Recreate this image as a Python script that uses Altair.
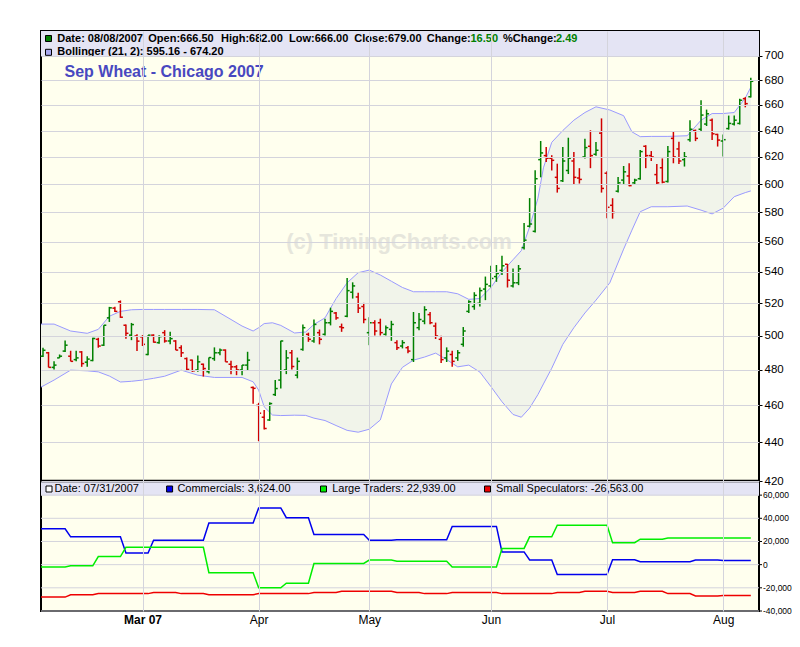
import altair as alt
import pandas as pd

# ---------------- data ----------------
opens = [488, 490, 481.5, 487, 491, 488, 486, 490.5, 484.5, 485.5,
         498, 494.5, 511, 517, 521, 506.5, 500.5, 500, 499.5, 489,
         500.5, 496, 502, 497, 497, 493, 486.6, 485.7, 480, 483.3,
         479, 486.6, 490, 491.6, 483.3, 481.8, 480, 482.8, 470, 460,
         453.5, 452, 466, 474.2, 480, 490, 477, 492, 501, 497,
         502, 501, 508, 514, 505.5, 512, 527, 524, 518, 502,
         508, 508, 501, 504, 496, 494, 493, 486, 505, 509,
         513, 506, 498, 487, 489, 487, 495, 515, 518, 520,
         529, 531, 537, 541, 545, 531, 533, 556, 570.5, 567,
         618, 621, 619, 605, 602.5, 610, 617, 604.5, 620, 628,
         622, 638, 608, 585, 595, 603, 606, 601, 604, 628,
         621, 607, 612, 602, 634, 626, 618, 633, 640, 641,
         645, 648, 637, 632, 641.5, 645, 645.5, 665, 666.5]
highs = [493, 490.5, 485, 489, 497.3, 491.2, 491.2, 491, 488, 498.9,
         498.9, 506.5, 517.8, 517.8, 521.8, 506.9, 507.9, 501, 500.5, 500.5,
         501, 500.5, 503.5, 502.6, 497.5, 494.5, 487.2, 486, 488.4, 483.7,
         487.2, 493.2, 492.6, 492, 485.3, 482.8, 482.8, 490.6, 470.5, 461.4,
         457.4, 461.7, 474.2, 497.1, 491.6, 491.6, 487.2, 507, 502, 510,
         503.9, 510.4, 517.3, 514.6, 507.5, 536.1, 533.3, 526.6, 520.3, 511.4,
         509.6, 510.5, 506.4, 509.2, 497.5, 497.5, 494, 514.6, 514, 518.2,
         514.6, 508.1, 500.1, 493.2, 491.2, 491.6, 505.4, 522, 527, 530,
         537, 544, 544.5, 550.6, 545.2, 542.3, 544.5, 572.7, 590.1, 610.2,
         632, 627.5, 621.3, 615, 627.5, 634.5, 623.7, 611.7, 633.7, 640.2,
         631.3, 649.4, 609.5, 590, 605.3, 613.3, 615.3, 604, 625.2, 628.8,
         624.4, 614.8, 618.9, 628.3, 639, 631.4, 623.7, 648, 640.7, 663.7,
         656.3, 649.4, 637.5, 637, 651.6, 651.6, 664.9, 666.2, 682]
lows = [487.5, 481.5, 480.3, 487, 490.5, 485, 485, 481.8, 481.8, 485,
        493, 494, 508.5, 514.6, 511, 498.4, 497.5, 491, 494, 488.5,
        496, 495.4, 496, 495, 491.6, 487.6, 479.5, 478.9, 478.9, 476.2,
        478, 485.3, 488.6, 484.7, 477.6, 477, 477, 479.9, 460.9, 440.6,
        446.9, 451.5, 465.2, 469.4, 477.6, 480.3, 475.2, 491.2, 496.5, 495.9,
        495, 500.3, 506.4, 509.8, 502.5, 511.4, 523, 514, 507.7, 494.5,
        500.3, 500.3, 500.3, 497.1, 491.6, 492.6, 489.8, 484.6, 503.5, 507.1,
        507.1, 498.2, 484, 484.6, 481.8, 485.3, 493.6, 514, 516, 518,
        522, 530, 533.6, 538, 530, 530, 531.5, 554.7, 569.7, 566.2,
        605, 616.3, 610, 594, 601.7, 607.4, 599.8, 600.5, 618.8, 611.7,
        620.9, 594, 576, 575.7, 594, 600.2, 598.5, 600.2, 603.2, 611.7,
        617, 600.2, 600.7, 601.2, 615.3, 614.8, 612.9, 631.4, 631.9, 639.7,
        643.5, 632.7, 627.8, 620.3, 640.7, 643.9, 644.7, 658.1, 666]
closes = [491.5, 481.5, 482.8, 488, 494.5, 485, 487, 483.7, 486.3, 498.5,
          494, 506.5, 517.2, 515, 511.4, 501.6, 506.9, 496.9, 495, 500.5,
          496.3, 499.6, 497, 498.4, 491.6, 490, 480.3, 479.5, 484.7, 480.8,
          487.2, 490, 491.6, 484.7, 481.8, 480, 482.8, 485.7, 469.5, 455.7,
          447.4, 461, 469.4, 497, 487, 482, 485, 505, 498, 507,
          498, 508, 515, 511, 505, 528, 531, 517, 510, 508,
          503, 502, 505, 507, 493, 496, 491, 508, 510, 516,
          508, 500, 486, 491, 485, 490, 503, 521, 525, 528,
          532, 535.8, 539, 544, 534.7, 533, 542, 561, 572, 604,
          623, 619, 617.5, 597, 617, 619, 605, 603.5, 627, 621,
          625, 597, 583.6, 580, 601, 609, 599, 603, 624, 621,
          620, 601, 601.5, 624, 620, 617, 620, 641, 634, 652,
          653, 637.5, 632.7, 633, 645.5, 648, 663.7, 661, 679]

# Bollinger band (21, 2)
band_idx = [-0.36, 2, 5, 8, 10, 12, 14, 16, 18, 20, 22, 25, 28, 31, 34, 36, 38, 39, 40, 41.5,
            43, 45.5, 47.5, 49, 51, 53, 55, 57, 59, 61, 63, 65, 67, 69, 71, 73, 75, 77, 79, 81,
            83, 85, 86.5, 88, 89.5, 90.5, 92, 94, 96, 98, 100, 102.5, 105, 106.5, 108, 110,
            113, 116.5, 119, 121, 123, 125, 127, 128]
band_upper = [507.2, 507.2, 503, 501.6, 504, 512, 515, 516, 516.2, 516.2, 516.2, 516.2, 516.2, 516,
              510, 506, 503, 505, 507.5, 508, 506.4, 501.8, 502.4, 507, 511, 523, 533, 539.5,
              541.2, 538, 534, 530, 527.3, 527.3, 527.3, 527.3, 526, 522.5, 523, 530, 540, 548,
              554, 570, 590, 612, 631, 640, 648, 654, 658.5, 656, 651.5, 639, 635.3, 635.5,
              635.5, 636, 648, 653.2, 653.2, 654, 665.5, 674.2]
band_lower = [470.2, 474.2, 479.9, 479.5, 478.9, 476.5, 473.1, 473.5, 474.2, 475.2, 476.4, 479.9,
              477, 475.7, 475.7, 475.7, 473.2, 468.5, 459.2, 454.7, 454.4, 454.6, 454.5, 453,
              451.7, 449, 446.4, 445.4, 447, 452, 472, 481.5, 485.7, 487.5, 489.8, 486, 481.8,
              482.8, 478.8, 470.5, 462, 455, 453.5, 458.5, 466, 472, 481, 495, 505, 514, 522,
              533, 555, 567.8, 580.5, 584, 584, 584.5, 581.6, 579, 583, 591.1, 594, 595.2]

# weekly Commitments of Traders values (bar index where each weekly value starts)
cot_starts = [-0.36, 5, 10, 15, 20, 25, 30, 35, 39, 44, 49, 54, 59, 64, 69, 74, 79, 83, 88,
              93, 98, 103, 108, 113, 118, 123]
cot_last = 128
commercials = [31000, 24000, 24000, 10000, 21000, 21000, 36000, 36000, 49000, 40500, 26000,
               26000, 21000, 21500, 21500, 33000, 33000, 11000, 4000, -8600, -8600, 4300, 2600,
               2600, 4000, 3624]
large_traders = [-2000, -1000, 7000, 15000, 15000, 15000, -7000, -7000, -20000, -16000, 1000,
                 1000, 4000, 3000, 3000, -2000, -2000, 14000, 24000, 34000, 34000, 19000, 22000,
                 23000, 23000, 22939]
small_specs = [-28000, -26000, -25000, -25000, -24000, -25000, -26000, -26000, -25000, -25000,
               -24000, -23000, -23000, -24000, -25000, -24000, -24000, -25000, -25000, -24000,
               -23000, -24000, -23000, -25000, -27000, -26563]

month_idx = [18, 39, 59, 81, 102, 123]
month_lbl = ["Mar 07", "Apr", "May", "Jun", "Jul", "Aug"]
price_ticks = list(range(420, 701, 20))
cot_ticks = [-40000, -20000, 0, 20000, 40000, 60000]

title_text = "Sep Wheat - Chicago 2007"
watermark = "(c) TimingCharts.com"

# ---------------- styling ----------------
GREEN = "#008000"
RED = "#d00000"
BAND_LINE = "#9a9aff"
BAND_FILL = "#f1f4ea"
BG = "#ffffee"
HEADER = "#e4e4f4"
GRID = "#d4d4dc"
FONT = "Liberation Sans"

W = 718
H = 580          # both panels: price panel 450 px, COT panel 130 px
SPLIT = 450

bars = pd.DataFrame({"i": list(range(len(closes))), "open": opens, "high": highs,
                     "low": lows, "close": closes})
bars["dir"] = ["up" if c >= o else "down" for o, c in zip(opens, closes)]
band = pd.DataFrame({"i": band_idx, "upper": band_upper, "lower": band_lower})

rows = []
for name, vals in [("Commercials", commercials), ("Large Traders", large_traders),
                   ("Small Speculators", small_specs)]:
    for w, v in enumerate(vals):
        s = cot_starts[w]
        e = cot_starts[w + 1] - 1 if w + 1 < len(cot_starts) else cot_last
        rows.append({"series": name, "i": s, "v": v, "o": 2 * w})
        rows.append({"series": name, "i": e, "v": v, "o": 2 * w + 1})
cot = pd.DataFrame(rows)
cot_tick_df = pd.DataFrame({"t": cot_ticks})
cot_tick_df["lbl"] = [("-" if t < 0 else "") + f"{abs(t):,}" for t in cot_ticks]

one = alt.Data(values=[{"a": 1}])

xscale = alt.Scale(domain=[-0.36, 129.48], nice=False, zero=False)
# log price scale: 700 at 25px, 420 at 450px from the top of the frame
yscale = alt.Scale(type="log", domain=[359.3, 721.3], nice=False)
# COT scale: 60,000 at 464px, -40,000 at the bottom
cscale = alt.Scale(domain=[-40000, 460600], nice=False, zero=False)

lbl_expr = " : ".join(f"datum.value == {v} ? '{t}'" for v, t in zip(month_idx, month_lbl)) + " : ''"
x_axis = alt.Axis(values=month_idx, labelExpr=lbl_expr, grid=True, gridColor=GRID,
                  ticks=False, domain=False, labelFont=FONT, labelFontSize=12,
                  labelColor="black", labelPadding=3, title=None, zindex=1,
                  labelFontWeight={"condition": {"test": f"datum.value == {month_idx[0]}",
                                                 "value": "bold"}, "value": "normal"})
p_axis = alt.Axis(orient="right", values=price_ticks, format="d", grid=True, gridColor=GRID,
                  domain=False, ticks=True, tickColor="black", tickSize=3,
                  labelColor="black", labelFont=FONT, labelFontSize=11.5, labelPadding=2,
                  labelOverlap=False, title=None, zindex=1)

X = alt.X("i:Q", scale=xscale, axis=x_axis)


def txt(s, x, y, color="black", size=11, weight="bold"):
    return alt.Chart(one).mark_text(align="left", baseline="middle", font=FONT, fontSize=size,
                                    fontWeight=weight, color=color).encode(
        x=alt.value(x), y=alt.value(y), text=alt.value(s))


def box(x, y, fill):
    return alt.Chart(one).mark_rect(fill=fill, stroke="black", strokeWidth=1).encode(
        x=alt.value(x), x2=alt.value(x + 6), y=alt.value(y), y2=alt.value(y + 6))


# ---------------- price panel ----------------
header1 = alt.Chart(one).mark_rect(color=HEADER).encode(
    x=alt.value(0), x2=alt.value(W), y=alt.value(0), y2=alt.value(25))
band_area = alt.Chart(band).mark_area(color=BAND_FILL, opacity=1).encode(
    x=X, y=alt.Y("upper:Q", scale=yscale, axis=p_axis), y2="lower:Q")
band_up = alt.Chart(band).mark_line(color=BAND_LINE, strokeWidth=1).encode(
    x=X, y=alt.Y("upper:Q", scale=yscale, axis=p_axis))
band_lo = alt.Chart(band).mark_line(color=BAND_LINE, strokeWidth=1).encode(
    x=X, y=alt.Y("lower:Q", scale=yscale, axis=p_axis))
wm = alt.Chart(one).mark_text(align="center", baseline="middle", font=FONT, fontSize=22,
                              fontWeight="bold", color="#e6e6dc").encode(
    x=alt.value(358), y=alt.value(211), text=alt.value(watermark))
ttl = alt.Chart(one).mark_text(align="left", baseline="middle", font=FONT, fontSize=16,
                               fontWeight="bold", color="#4848c0").encode(
    x=alt.value(23.5), y=alt.value(41), text=alt.value(title_text))

base = alt.Chart(bars).transform_calculate(il="datum.i - 0.45", ir="datum.i + 0.45")
col = alt.Color("dir:N", scale=alt.Scale(domain=["up", "down"], range=[GREEN, RED]), legend=None)
hl = base.mark_rule(strokeWidth=1.5).encode(
    x=X, y=alt.Y("low:Q", scale=yscale, axis=p_axis), y2="high:Q", color=col)
op = base.mark_rule(strokeWidth=1.5).encode(
    x=alt.X("il:Q", scale=xscale, axis=x_axis), x2="i:Q",
    y=alt.Y("open:Q", scale=yscale, axis=p_axis), color=col)
cl = base.mark_rule(strokeWidth=1.5).encode(
    x=alt.X("i:Q", scale=xscale, axis=x_axis), x2="ir:Q",
    y=alt.Y("close:Q", scale=yscale, axis=p_axis), color=col)

hdr_items = [
    ("Date: 08/08/2007", 16.3, "black"), ("Open:666.50", 107.3, "black"),
    ("High:682.00", 180, "black"), ("Low:666.00", 248, "black"),
    ("Close:679.00", 313.3, "black"), ("Change:", 385.7, "black"),
    ("16.50", 429.5, GREEN), ("%Change:", 462, "black"), ("2.49", 515, GREEN),
]
hdr_layers = [txt(s, x, 7.5, c) for s, x, c in hdr_items]
hdr_layers.append(txt("Bollinger (21, 2): 595.16 - 674.20", 16.3, 21.3))
hdr_layers.append(box(4.5, 4.5, GREEN))
hdr_layers.append(box(4.5, 18.3, "#a8a8f0"))

price = alt.layer(header1, band_area, band_up, band_lo, wm, hl, op, cl, ttl, *hdr_layers)

# ---------------- COT panel ----------------
CY = alt.Y("t:Q", scale=cscale, axis=None)
header2 = alt.Chart(one).mark_rect(color=HEADER).encode(
    x=alt.value(0), x2=alt.value(W), y=alt.value(SPLIT), y2=alt.value(SPLIT + 14.5))
cot_grid = alt.Chart(cot_tick_df).mark_rule(color=GRID, strokeWidth=1).encode(
    x=alt.value(0), x2=alt.value(W), y=CY)
cot_tk = alt.Chart(cot_tick_df).mark_rule(color="black", strokeWidth=1).encode(
    x=alt.value(W), x2=alt.value(W + 3), y=CY)
cot_lbl = alt.Chart(cot_tick_df).mark_text(align="left", baseline="middle", font=FONT,
                                           fontSize=8.5, color="black").encode(
    x=alt.value(W + 4), y=CY, text="lbl:N")
cot_lines = alt.Chart(cot).mark_line(strokeWidth=1.5).encode(
    x=X,
    y=alt.Y("v:Q", scale=cscale, axis=None),
    color=alt.Color("series:N", scale=alt.Scale(
        domain=["Commercials", "Large Traders", "Small Speculators"],
        range=["#0000ee", "#00ee00", "#ee0000"]), legend=None),
    order="o:Q")
sep = alt.Chart(one).mark_rule(color="black", strokeWidth=2.5).encode(
    x=alt.value(0), x2=alt.value(W), y=alt.value(SPLIT))
ly = SPLIT + 8
leg2 = [
    box(5, ly - 3, "white"), txt("Date: 07/31/2007", 13.5, ly, weight="normal"),
    box(125.6, ly - 3, "#0000ee"), txt("Commercials: 3,624.00", 136.4, ly, weight="normal"),
    box(279.5, ly - 3, "#00ee00"), txt("Large Traders: 22,939.00", 291.2, ly, weight="normal"),
    box(443.5, ly - 3, "#ee0000"), txt("Small Speculators: -26,563.00", 455, ly, weight="normal"),
]
cotl = alt.layer(header2, cot_grid, cot_tk, cot_lbl, cot_lines, sep, *leg2)

chart = alt.layer(price, cotl).resolve_scale(y="independent", color="independent").properties(
    width=W, height=H,
    autosize=alt.AutoSizeParams(type="none"),
    padding={"left": 33, "top": 23, "right": 33, "bottom": 22},
    background="white",
).configure_view(stroke="black", strokeWidth=2, fill=BG)

chart.save("out.html", embed_options={"renderer": "svg", "actions": False})
